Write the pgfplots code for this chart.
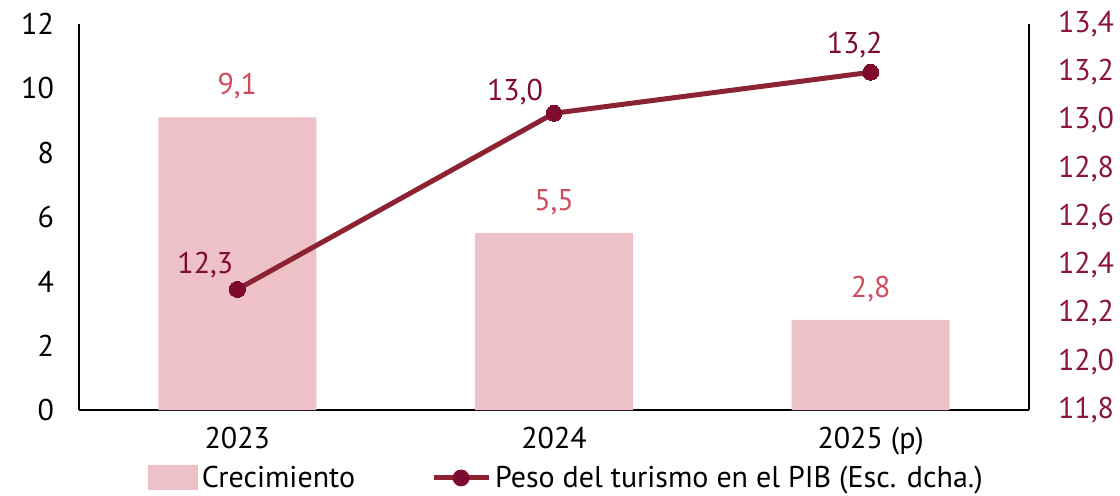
\documentclass[border=0pt]{standalone}
\usepackage{fontspec}
\setmainfont{PT Sans}
\usepackage{pgfplots}
\pgfplotsset{compat=1.18}
\definecolor{barpink}{HTML}{EDC1C7}
\definecolor{barlab}{HTML}{D14B5F}
\definecolor{linecol}{HTML}{8B2332}
\definecolor{markcol}{HTML}{7E0A2E}
\definecolor{rlab}{HTML}{8A1538}
\newcommand{\ff}{\fontsize{15}{18}\selectfont}
\begin{document}
\begin{tikzpicture}
\begin{axis}[
  at={(0,0)}, anchor=south west,
  scale only axis, width=475pt, height=193pt,
  xmin=-0.5, xmax=2.5, ymin=0, ymax=12,
  axis y line*=left, axis x line*=bottom,
  axis line style={line width=0.8pt, black},
  major tick length=0pt,
  xtick=data, xticklabels={2023,2024,2025 (p)},
  ytick={0,2,4,6,8,10,12},
  tick label style={font=\ff},
  /pgf/number format/assume math mode=true,
  yticklabel style={xshift=-9pt},
  xticklabel style={yshift=-5pt},
  legend columns=2,
  legend style={draw=none, at={(0.072,-0.176)}, anchor=west, font=\ff,
    /tikz/every even column/.append style={column sep=36pt},
    inner xsep=0pt, inner ysep=0pt},
  legend cell align=left,
]
\addplot[ybar, bar width=79pt, fill=barpink, draw=none,
  nodes near coords,
  nodes near coords style={font=\ff, text=barlab, anchor=center, yshift=15.5pt,
    /pgf/number format/.cd, use comma, fixed, precision=1, fixed zerofill, assume math mode=true},
  area legend,
  legend image code/.code={\fill[barpink] (0pt,-6.25pt) rectangle (25pt,6.25pt);}
] coordinates {(0,9.1) (1,5.5) (2,2.8)};
\addlegendentry{Crecimiento}
\addlegendimage{legend image code/.code={
  \draw[line width=2.5pt, linecol] (0pt,0pt) -- (27.5pt,0pt);
  \fill[markcol] (13.75pt,0pt) circle (4pt);}}
\addlegendentry{Peso del turismo en el PIB (Esc. dcha.)}
\end{axis}
\begin{axis}[
  at={(0,0)}, anchor=south west,
  scale only axis, width=475pt, height=193pt,
  xmin=-0.5, xmax=2.5, ymin=11.8, ymax=13.4,
  axis y line*=right, axis x line=none,
  axis line style={line width=0.8pt, black},
  major tick length=0pt,
  ytick={11.8,12.0,12.2,12.4,12.6,12.8,13.0,13.2,13.4},
  yticklabel style={font=\ff, text=rlab, xshift=11pt,
    /pgf/number format/.cd, use comma, fixed, precision=1, fixed zerofill},
  /pgf/number format/assume math mode=true,
]
\addplot[line width=2.5pt, color=linecol, mark=*, mark size=4pt,
  mark options={fill=markcol, draw=markcol, line width=0pt},
  visualization depends on={\thisrow{dx} \as \dx},
  visualization depends on={\thisrow{dy} \as \dy},
  nodes near coords,
  nodes near coords style={font=\ff, text=markcol, anchor=center,
    xshift=\dx pt, yshift=\dy pt,
    /pgf/number format/.cd, use comma, fixed, precision=1, fixed zerofill, assume math mode=true},
] table {
x y dx dy
0 12.3 -16 12
1 13.03 -19.5 10.5
2 13.2 -8 13.5
};
\end{axis}
\pgfresetboundingbox
\path (-39.5pt,-42.5pt) rectangle (520.5pt,205pt);
\end{tikzpicture}
\end{document}
